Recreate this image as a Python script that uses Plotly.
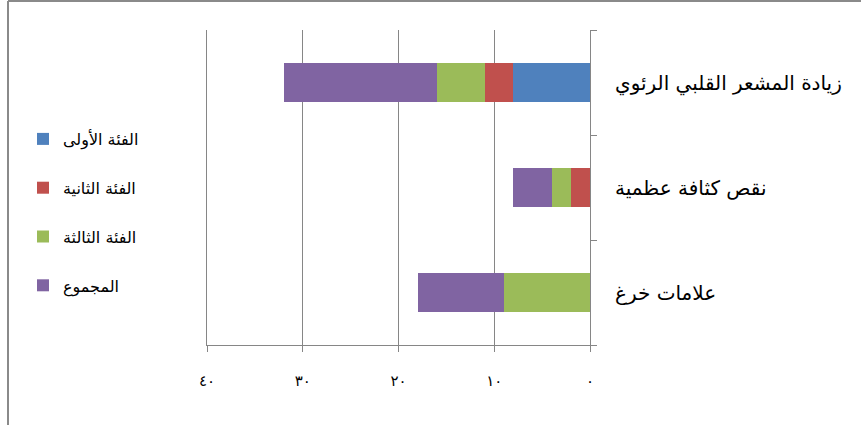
import plotly.graph_objects as go

categories = ["زيادة المشعر القلبي الرئوي", "نقص كثافة عظمية", "علامات خرغ"]
series_names = ["الفئة الأولى", "الفئة الثانية", "الفئة الثالثة", "المجموع"]
cat1 = [8, 0, 0]
cat2 = [3, 2, 0]
cat3 = [5, 2, 9]
total = [16, 4, 9]
tick_vals = [0, 10, 20, 30, 40]
tick_text = ["٠", "١٠", "٢٠", "٣٠", "٤٠"]
colors = ["#4F81BD", "#C0504D", "#9BBB59", "#8064A2"]

W, H = 861, 425
L, R, T, B = 207, 271, 30, 80
pw, ph = W - L - R, H - T - B

fig = go.Figure()
for i, (name, vals) in enumerate(zip(series_names, [cat1, cat2, cat3, total])):
    fig.add_trace(go.Bar(
        y=categories, x=vals, name=name, orientation="h",
        marker=dict(color=colors[i], line=dict(width=0)),
        width=0.38, legendgroup=f"g{i}",
    ))

font = "DejaVu Sans"
fig.update_layout(
    width=W, height=H, barmode="stack",
    margin=dict(l=L, r=R, t=T, b=B),
    paper_bgcolor="white", plot_bgcolor="white",
    font=dict(family=font, color="black"),
    showlegend=True,
    legend=dict(x=(23 - L) / pw, y=(H - B - 122) / ph, xanchor="left", yanchor="top",
                traceorder="grouped", tracegroupgap=25,
                font=dict(size=16, family=font), itemwidth=30),
    xaxis=dict(range=[40, 0], tickvals=tick_vals, ticktext=tick_text,
               showgrid=True, gridcolor="#868686", gridwidth=1,
               showline=True, linecolor="#868686", linewidth=1,
               ticks="outside", ticklen=6, tickcolor="#868686",
               ticklabelstandoff=16, tickfont=dict(size=15), zeroline=False),
    yaxis=dict(side="right", categoryorder="array", categoryarray=categories[::-1],
               showline=True, mirror=True, linecolor="#868686", linewidth=1,
               ticks="outside", ticklen=6, tickcolor="#868686", tickson="boundaries",
               tickfont=dict(size=20), showgrid=False, ticklabelstandoff=20),
)

# decorative frame (left and top edges)
fig.add_shape(type="line", xref="paper", yref="paper",
              x0=(8 - L) / pw, x1=(8 - L) / pw, y0=(H - B - H) / ph, y1=(H - B - 1) / ph,
              line=dict(color="#8a8a8a", width=2))
fig.add_shape(type="line", xref="paper", yref="paper",
              x0=(8 - L) / pw, x1=(W - L) / pw, y0=(H - B - 1) / ph, y1=(H - B - 1) / ph,
              line=dict(color="#8a8a8a", width=2))

fig.write_html("out.html")
